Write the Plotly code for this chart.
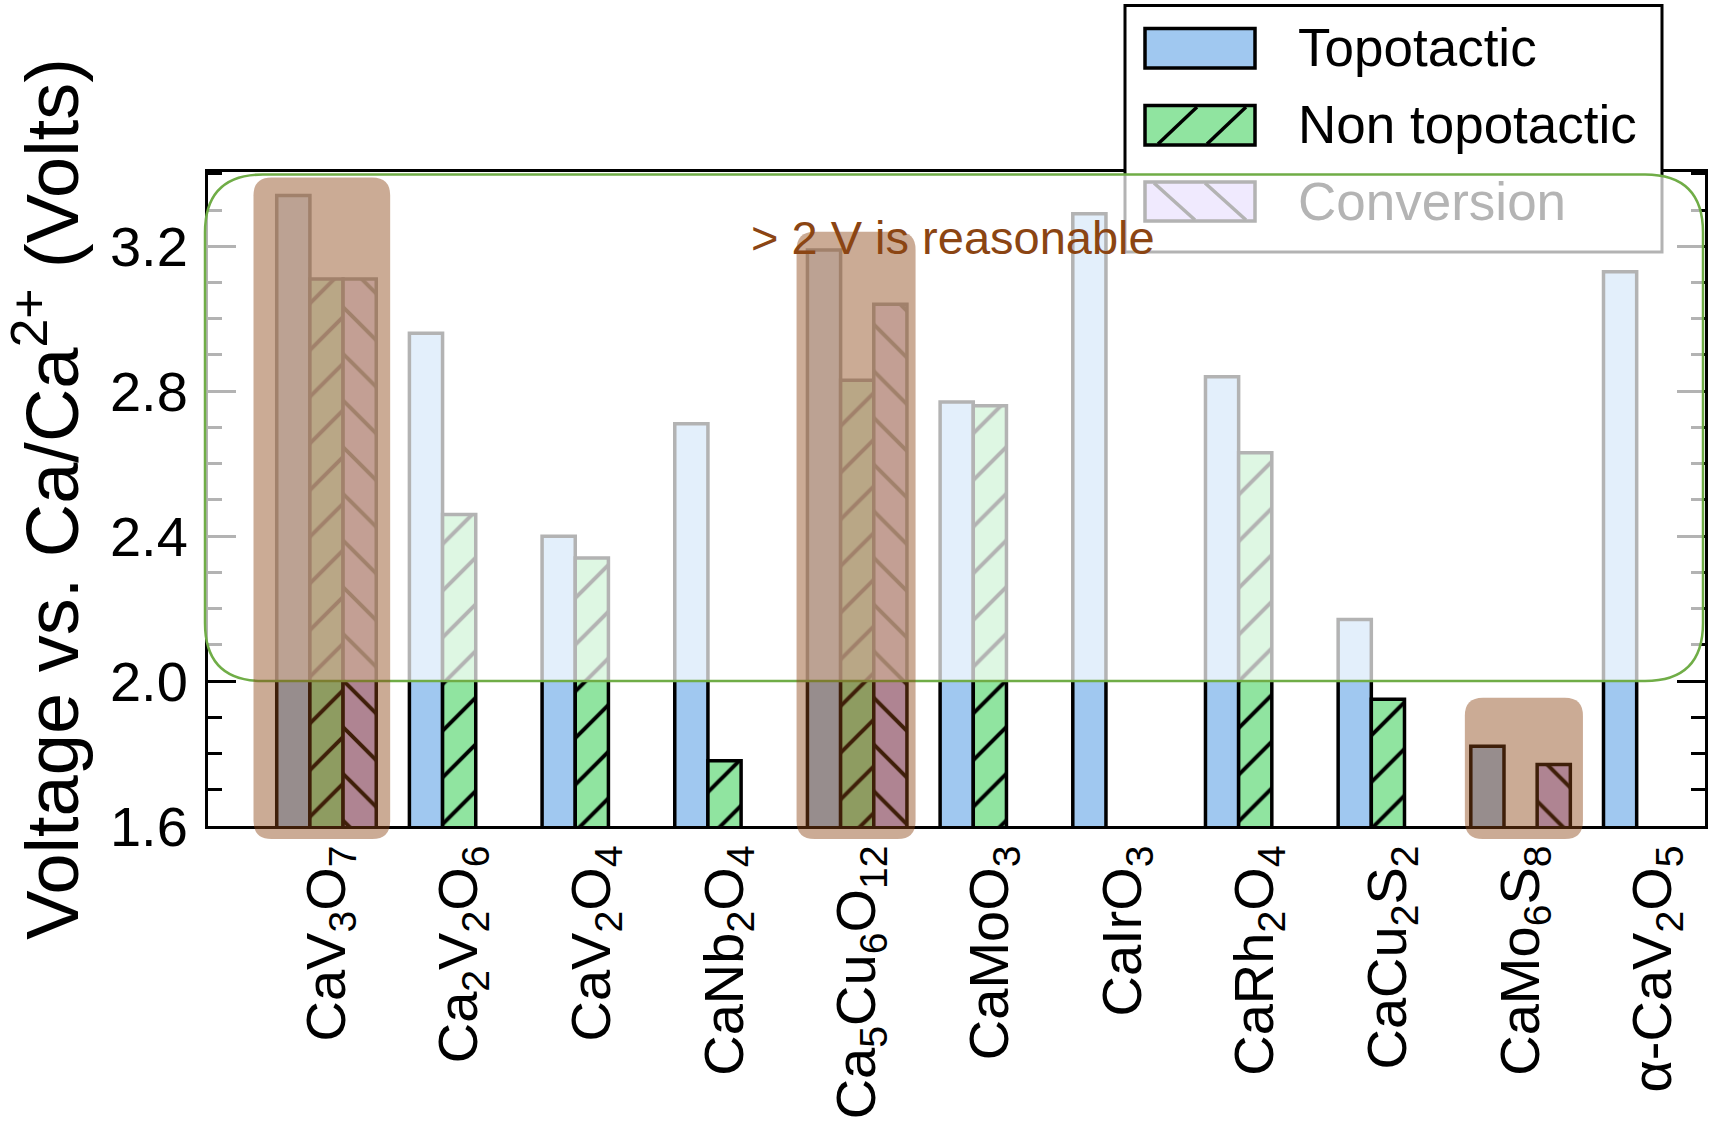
import plotly.graph_objects as go

# ---- data -------------------------------------------------------------
categories = [
    "CaV<sub>3</sub>O<sub>7</sub>",
    "Ca<sub>2</sub>V<sub>2</sub>O<sub>6</sub>",
    "CaV<sub>2</sub>O<sub>4</sub>",
    "CaNb<sub>2</sub>O<sub>4</sub>",
    "Ca<sub>5</sub>Cu<sub>6</sub>O<sub>12</sub>",
    "CaMoO<sub>3</sub>",
    "CaIrO<sub>3</sub>",
    "CaRh<sub>2</sub>O<sub>4</sub>",
    "CaCu<sub>2</sub>S<sub>2</sub>",
    "CaMo<sub>6</sub>S<sub>8</sub>",
    "α-CaV<sub>2</sub>O<sub>5</sub>",
]
topotactic = [3.34, 2.96, 2.40, 2.71, 3.19, 2.77, 3.29, 2.84, 2.17, 1.82, 3.13]
non_topotactic = [3.11, 2.46, 2.34, 1.78, 2.83, 2.76, None, 2.63, 1.95, None, None]
conversion = [3.11, None, None, None, 3.04, None, None, None, None, 1.77, None]

series_names = ["Topotactic", "Non topotactic", "Conversion"]
y_tick_values = [1.6, 2.0, 2.4, 2.8, 3.2]
threshold_voltage = 2.0
note_text = "> 2 V is reasonable"

# ---- styling ----------------------------------------------------------
FONT = "Liberation Sans, Arial, Helvetica, sans-serif"
BLUE = "#a0c8f0"
GREEN = "#90e4a0"
LAVENDER = "#cdb9fa"
BROWN = "rgba(139,69,19,0.45)"
NOTE_COLOR = "#8b4513"
FRAME_GREEN = "rgb(112,173,71)"

W, H = 1710, 1141
M_L, M_R, M_T, M_B = 208, 5, 172, 315
PW, PH = W - M_L - M_R, H - M_T - M_B
X_RANGE = [-0.893, 10.39]
Y_RANGE = [1.6, 3.405]


def px_x(v):
    """data x -> paper x"""
    return (v - X_RANGE[0]) / (X_RANGE[1] - X_RANGE[0])


def px_y(v):
    """data y -> paper y"""
    return (v - Y_RANGE[0]) / (Y_RANGE[1] - Y_RANGE[0])


def pix_x(p):
    """pixel column -> paper x"""
    return (p - M_L) / PW


def pix_y(p):
    """pixel row -> paper y"""
    return (H - M_B - p) / PH


def rounded_rect(x0, y0, x1, y1, r):
    """rounded rectangle path in paper units, r in pixels"""
    rx, ry = r / PW, r / PH
    return (
        f"M{x0 + rx},{y0} L{x1 - rx},{y0} Q{x1},{y0} {x1},{y0 + ry} "
        f"L{x1},{y1 - ry} Q{x1},{y1} {x1 - rx},{y1} L{x0 + rx},{y1} "
        f"Q{x0},{y1} {x0},{y1 - ry} L{x0},{y0 + ry} Q{x0},{y0} {x0 + rx},{y0} Z"
    )


fig = go.Figure()

edge = dict(color="black", width=3.5)
fig.add_trace(go.Bar(
    x=categories, y=topotactic, name=series_names[0],
    marker=dict(color=BLUE, line=edge),
))
fig.add_trace(go.Bar(
    x=categories, y=non_topotactic, name=series_names[1],
    marker=dict(color=GREEN, line=edge,
                pattern=dict(shape="/", fgcolor="black", bgcolor=GREEN,
                             fgopacity=1, size=33, solidity=0.12)),
))
fig.add_trace(go.Bar(
    x=categories, y=conversion, name=series_names[2],
    marker=dict(color=LAVENDER, line=edge,
                pattern=dict(shape="\\", fgcolor="black", bgcolor=LAVENDER,
                             fgopacity=1, size=33, solidity=0.12)),
))

shapes = []

# legend frame and swatches (under the translucent highlight frame)
shapes.append(dict(type="rect", xref="paper", yref="paper", layer="above",
                   x0=pix_x(1125), x1=pix_x(1662), y0=pix_y(252), y1=pix_y(5.5),
                   fillcolor="white", line=dict(color="black", width=3)))
swatch_rows = [(28.5, 68, BLUE), (105.5, 145, GREEN), (182, 221, LAVENDER)]
for top, bottom, col in swatch_rows:
    shapes.append(dict(type="rect", xref="paper", yref="paper", layer="above",
                       x0=pix_x(1145), x1=pix_x(1255), y0=pix_y(bottom), y1=pix_y(top),
                       fillcolor=col, line=dict(color="black", width=3.5)))
hatch_segments = [
    ((1158, 144), (1197, 107)), ((1207, 144), (1246, 107)),
    ((1154, 183), (1195, 220)), ((1205, 183), (1246, 220)),
]
for (ax, ay), (bx, by) in hatch_segments:
    shapes.append(dict(type="line", xref="paper", yref="paper", layer="above",
                       x0=pix_x(ax), y0=pix_y(ay), x1=pix_x(bx), y1=pix_y(by),
                       line=dict(color="black", width=3.5)))

# translucent frame over the region above the threshold voltage
shapes.append(dict(type="path", xref="paper", yref="paper", layer="above",
                   path=rounded_rect(pix_x(205), px_y(threshold_voltage),
                                     pix_x(1703), pix_y(174.5), 58),
                   fillcolor="rgba(255,255,255,0.7)",
                   line=dict(color=FRAME_GREEN, width=2.5)))

# brown highlight boxes around selected compounds
highlights = [(0, -0.55, 0.48, 3.39), (4, -0.457, 0.44, 3.24), (9, -0.42, 0.47, 1.954)]
for idx, left, right, top in highlights:
    shapes.append(dict(type="path", xref="paper", yref="paper", layer="above",
                       path=rounded_rect(px_x(idx + left), px_y(1.564),
                                         px_x(idx + right), px_y(top), 18),
                       fillcolor=BROWN, line=dict(width=0)))

annotations = []
legend_rows = [(series_names[0], 48, "black"), (series_names[1], 125, "black"),
               (series_names[2], 202, "rgb(180,180,180)")]
for label, yc, col in legend_rows:
    annotations.append(dict(text=label, xref="paper", yref="paper",
                            x=pix_x(1296), y=pix_y(yc), xanchor="left", yanchor="middle",
                            showarrow=False, font=dict(family=FONT, size=53, color=col)))
annotations.append(dict(text=note_text, xref="paper", yref="paper",
                        x=pix_x(953), y=pix_y(238), xanchor="center", yanchor="middle",
                        showarrow=False, font=dict(family=FONT, size=47, color=NOTE_COLOR)))

fig.update_layout(
    width=W, height=H,
    margin=dict(l=M_L, r=M_R, t=M_T, b=M_B, autoexpand=False),
    paper_bgcolor="white", plot_bgcolor="white",
    barmode="group", bargap=0.25, bargroupgap=0,
    showlegend=False,
    font=dict(family=FONT, color="black"),
    shapes=shapes, annotations=annotations,
)
fig.update_xaxes(
    type="category", range=X_RANGE, showgrid=False, zeroline=False,
    showline=True, linecolor="black", linewidth=3, mirror=True,
    ticks="", tickangle=-90, tickfont=dict(family=FONT, size=56, color="black"),
    ticklabelstandoff=-6,
    automargin=False,
)
fig.update_yaxes(
    range=Y_RANGE, showgrid=False, zeroline=False,
    showline=True, linecolor="black", linewidth=3, mirror="ticks",
    tickmode="array", tickvals=y_tick_values, tickformat=".1f",
    ticks="inside", ticklen=28, tickwidth=3, tickcolor="black",
    minor=dict(dtick=0.1, tick0=1.6, ticks="inside", ticklen=14, tickwidth=3, tickcolor="black"),
    tickfont=dict(family=FONT, size=56, color="black"),
    ticklabelstandoff=6,
    title=dict(text="Voltage vs. Ca/Ca<sup>2+</sup> (Volts)",
               font=dict(family=FONT, size=74, color="black"), standoff=14),
    automargin=False,
)

fig.write_html("out.html")
